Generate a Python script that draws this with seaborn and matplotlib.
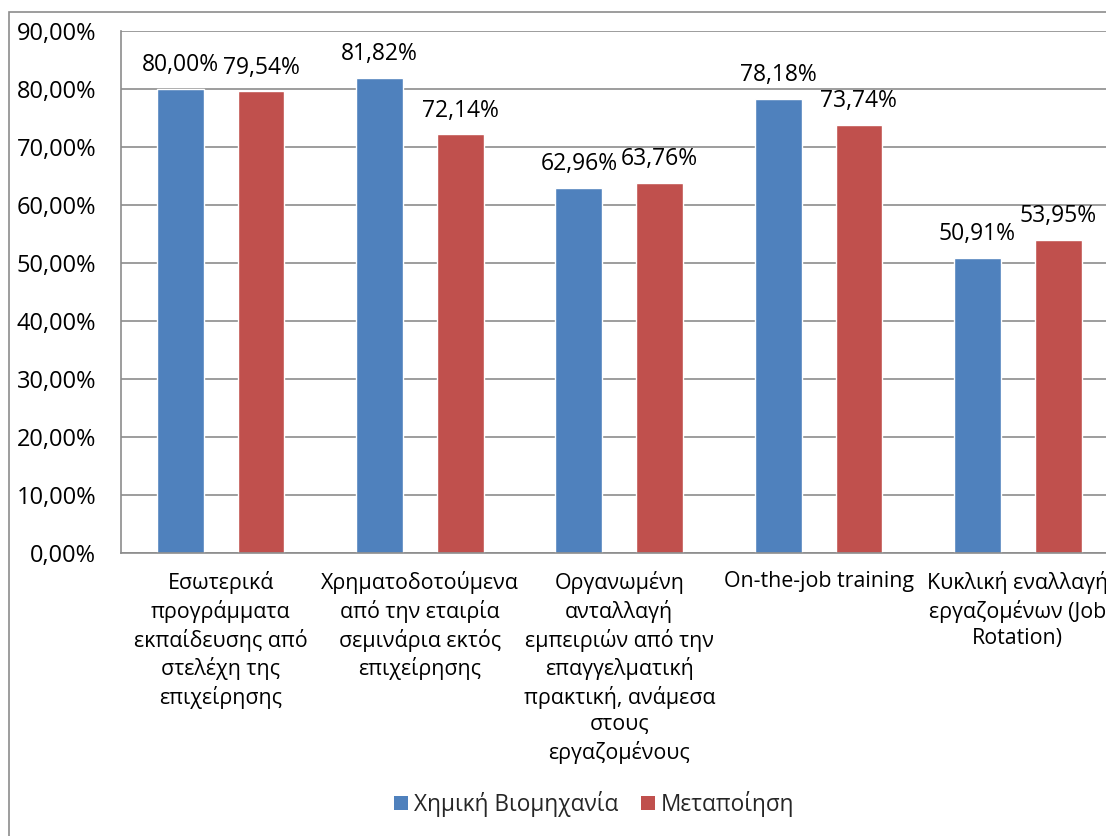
import numpy as np
import pandas as pd
import matplotlib
matplotlib.use("Agg")
import matplotlib.pyplot as plt
import seaborn as sns
from matplotlib.patches import Rectangle, Patch

categories = [
    "Εσωτερικά\nπρογράμματα\nεκπαίδευσης από\nστελέχη της\nεπιχείρησης",
    "Χρηματοδοτούμενα\nαπό την εταιρία\nσεμινάρια εκτός\nεπιχείρησης",
    "Οργανωμένη\nανταλλαγή\nεμπειριών από την\nεπαγγελματική\nπρακτική, ανάμεσα\nστους\nεργαζομένους",
    "On-the-job training",
    "Κυκλική εναλλαγή\nεργαζομένων (Job\nRotation)",
]
series = ["Χημική Βιομηχανία", "Μεταποίηση"]
chem = [80.00, 81.82, 62.96, 78.18, 50.91]
manuf = [79.54, 72.14, 63.76, 73.74, 53.95]
yticks = [0, 10, 20, 30, 40, 50, 60, 70, 80, 90]

colors = ["#4F81BD", "#C0504D"]

df = pd.DataFrame({
    "category": categories * 2,
    "series": [series[0]] * 5 + [series[1]] * 5,
    "value": chem + manuf,
})

sns.set_style("white")
plt.rcParams["font.family"] = ["Open Sans", "DejaVu Sans"]

def pct(v):
    return f"{v:.2f}%".replace(".", ",")

fig = plt.figure(figsize=(11.06, 8.36), dpi=100)
# plot area runs a little past the right edge, as in the original
ax = fig.add_axes([121 / 1106, 1 - 553 / 836, 996.5 / 1106, (553 - 30.7) / 836])

sns.barplot(data=df, x="category", y="value", hue="series", order=categories,
            hue_order=series, palette=colors, width=0.81, gap=0.42,
            saturation=1, ax=ax, legend=False)

# data labels above bars
for cont in ax.containers:
    for bar in cont:
        h = bar.get_height()
        ax.annotate(pct(h), (bar.get_x() + bar.get_width() / 2, h),
                    xytext=(0, 8.5), textcoords="offset points",
                    ha="center", va="bottom", fontsize=16.5, color="black")

ax.set_xlim(-0.5, 4.5)
ax.set_ylim(0, 90)
ax.set_yticks(yticks)
ax.set_yticklabels([pct(v) for v in yticks], fontsize=17, color="black")
ax.yaxis.grid(True, color="#8c8c8c", linewidth=1.2)
ax.set_axisbelow(True)

ax.set_xticks(range(5))
ax.set_xticklabels(categories, fontsize=15.4, linespacing=1.32, va="top", color="black")
ax.set_xticks(np.arange(-0.5, 5, 1), minor=True)
ax.tick_params(axis="x", which="major", length=0, pad=13)
ax.tick_params(axis="x", which="minor", length=6, color="#8c8c8c", width=1.2)
ax.tick_params(axis="y", length=6, color="#8c8c8c", width=1.2, pad=12)
ax.set_xlabel("")
ax.set_ylabel("")

for s in ["top", "right"]:
    ax.spines[s].set_visible(False)
for s in ["left", "bottom"]:
    ax.spines[s].set_color("#8c8c8c")
    ax.spines[s].set_linewidth(1.2)

handles = [Patch(facecolor=c, edgecolor="none") for c in colors]
fig.legend(handles, series, loc="center", bbox_to_anchor=(594 / 1106, 1 - 804 / 836),
           ncol=2, frameon=False, fontsize=16.3, handlelength=0.62, handleheight=0.62,
           handletextpad=0.27, columnspacing=1.0)

# outer chart border
fig.patches.append(Rectangle((9 / 1106, -0.1), 1.2, 1 - 12 / 836 + 0.1,
                             transform=fig.transFigure, fill=False,
                             edgecolor="#8c8c8c", linewidth=1.2))

fig.savefig("out.png", dpi=100)
